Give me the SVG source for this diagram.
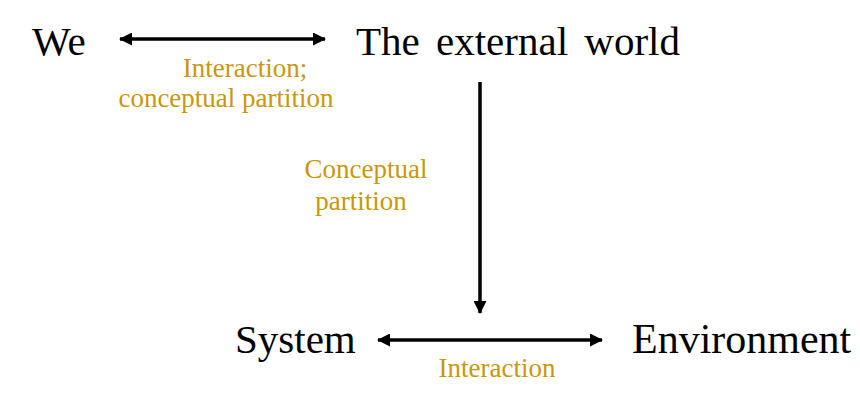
<svg xmlns="http://www.w3.org/2000/svg" width="860" height="407" viewBox="0 0 860 407">
<style>
.n{font-size:41px;fill:#000}
.l{font-size:27px;fill:#C9970C;text-anchor:middle}
.c{stroke:#000;stroke-width:3.5;fill:none}
</style>
<defs>
<marker id="ah" viewBox="0 0 13 13" refX="12" refY="6.5" markerWidth="13" markerHeight="13" markerUnits="userSpaceOnUse" orient="auto-start-reverse">
<path d="M0,0 L13,6.5 L0,13 Z" fill="#000"/>
</marker>
</defs>
<rect width="860" height="407" fill="#fff"/>
<g id="we"><text class="n" font-family="Liberation Serif" x="32" y="55">We</text></g>
<g id="world"><text class="n" font-family="Liberation Serif" x="356" y="55" word-spacing="6">The external world</text></g>
<g id="system"><text class="n" font-family="Liberation Serif" x="235" y="353">System</text></g>
<g id="environment"><text class="n" font-family="Liberation Serif" x="632" y="353" style="font-size:42px">Environment</text></g>
<g id="connectors">
<line class="c" x1="120" y1="39" x2="325" y2="39" marker-start="url(#ah)" marker-end="url(#ah)"/>
<line class="c" x1="480" y1="82" x2="480" y2="313" marker-end="url(#ah)"/>
<line class="c" x1="378" y1="340" x2="602" y2="340" marker-start="url(#ah)" marker-end="url(#ah)"/>
</g>
<g id="labels">
<text class="l" font-family="Liberation Serif" x="245" y="77">Interaction;</text>
<text class="l" font-family="Liberation Serif" x="226" y="107">conceptual partition</text>
<text class="l" font-family="Liberation Serif" x="366" y="178">Conceptual</text>
<text class="l" font-family="Liberation Serif" x="361" y="210">partition</text>
<text class="l" font-family="Liberation Serif" x="497" y="377">Interaction</text>
</g>
</svg>
